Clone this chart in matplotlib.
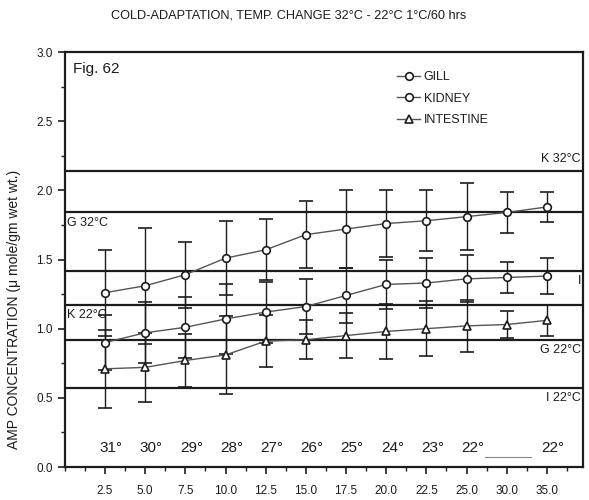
import matplotlib
matplotlib.use("Agg")
import matplotlib.pyplot as plt
from matplotlib.ticker import MultipleLocator
import numpy as np

plt.rcParams['font.family'] = ['Liberation Sans Narrow', 'Liberation Sans', 'DejaVu Sans']

x_labels = ['2.5', '5.0', '7.5', '10.0', '12.5', '15.0', '17.5', '20.0', '22.5', '25.0', '30.0', '35.0']
temp_labels = ['31°', '30°', '29°', '28°', '27°', '26°', '25°', '24°', '23°', '22°', '', '22°']

gill = [1.26, 1.31, 1.39, 1.51, 1.57, 1.68, 1.72, 1.76, 1.78, 1.81, 1.84, 1.88]
gill_err = [0.31, 0.42, 0.24, 0.27, 0.22, 0.24, 0.28, 0.24, 0.22, 0.24, 0.15, 0.11]
kidney = [0.90, 0.97, 1.01, 1.07, 1.12, 1.16, 1.24, 1.32, 1.33, 1.36, 1.37, 1.38]
kidney_err = [0.20, 0.22, 0.22, 0.25, 0.22, 0.20, 0.20, 0.18, 0.18, 0.17, 0.11, 0.13]
intestine = [0.71, 0.72, 0.77, 0.81, 0.91, 0.92, 0.95, 0.98, 1.00, 1.02, 1.03, 1.06]
intestine_err = [0.28, 0.25, 0.19, 0.28, 0.19, 0.14, 0.16, 0.20, 0.20, 0.19, 0.10, 0.11]

ref_values = [2.14, 1.84, 1.42, 1.17, 0.92, 0.57]
ref_labels = ['K 32°C', 'G 32°C', 'I', 'K 22°C', 'G 22°C', 'I 22°C']
ref_sides = ['right-above', 'left-below', 'right-below', 'left-below', 'right-below', 'right-below']

INK = '#1c1c1c'
fig = plt.figure(figsize=(5.89, 5.00), dpi=100)
ax = fig.add_axes([0.110, 0.066, 0.880, 0.830])

x = np.arange(len(x_labels))

for val, lab, side in zip(ref_values, ref_labels, ref_sides):
    ax.axhline(val, color=INK, lw=1.6, zorder=1)
    if side.startswith('right'):
        xt, ha = 11.85, 'right'
    else:
        xt, ha = -0.95, 'left'
    if side.endswith('above'):
        yt, va = val + 0.04, 'bottom'
    else:
        yt, va = val - 0.03, 'top'
    ax.text(xt, yt, lab, ha=ha, va=va, fontsize=9, color=INK)

series = [
    (gill, gill_err, 'o', 'GILL'),
    (kidney, kidney_err, 'o', 'KIDNEY'),
    (intestine, intestine_err, '^', 'INTESTINE'),
]
handles = []
for vals, errs, mk, name in series:
    ax.errorbar(x, vals, yerr=errs, fmt='none', ecolor=INK, elinewidth=1.0,
                capsize=4.8, capthick=1.2, zorder=2)
    h, = ax.plot(x, vals, '-', color='#555555', lw=1.0, marker=mk, ms=5.5,
                 mfc='white', mec=INK, mew=1.2, zorder=3, label=name)
    handles.append(h)

leg = ax.legend(handles=handles, loc='upper left', bbox_to_anchor=(0.625, 0.975),
                frameon=False, fontsize=9, handlelength=1.8, handletextpad=0.3,
                labelspacing=0.75, borderpad=0.2)
for t in leg.get_texts():
    t.set_color(INK)

for xi, t in zip(x, temp_labels):
    if t:
        ax.text(xi + 0.15, 0.135, t, ha='center', va='center', fontsize=11, color=INK)
ax.plot([9.45, 10.6], [0.07, 0.07], color='#888888', lw=0.8)

ax.text(-0.8, 2.93, 'Fig. 62', ha='left', va='top', fontsize=11, color=INK)

ax.set_xlim(-1.0, 11.9)
ax.set_ylim(0.0, 3.0)
ax.set_xticks(x)
ax.set_xticklabels(x_labels)
ax.xaxis.set_minor_locator(MultipleLocator(0.5))
ax.yaxis.set_major_locator(MultipleLocator(0.5))
ax.yaxis.set_minor_locator(MultipleLocator(0.25))
ax.yaxis.set_major_formatter(matplotlib.ticker.FormatStrFormatter('%.1f'))
ax.tick_params(axis='both', which='major', direction='out', length=5, width=1.2,
               labelsize=8.5, colors=INK)
ax.tick_params(axis='both', which='minor', direction='out', length=3, width=1.0, colors=INK)
ax.tick_params(axis='x', pad=8)
for s in ax.spines.values():
    s.set_linewidth(1.6)
    s.set_color(INK)

ax.set_ylabel('AMP CONCENTRATION (\u03bc mole/gm wet wt.)', fontsize=10, color=INK)
ax.yaxis.set_label_coords(-0.085, 0.38)
fig.text(0.49, 0.968, 'COLD-ADAPTATION, TEMP. CHANGE 32°C - 22°C 1°C/60 hrs',
         ha='center', va='center', fontsize=9.2, color=INK)

fig.savefig('out.png', dpi=100)
